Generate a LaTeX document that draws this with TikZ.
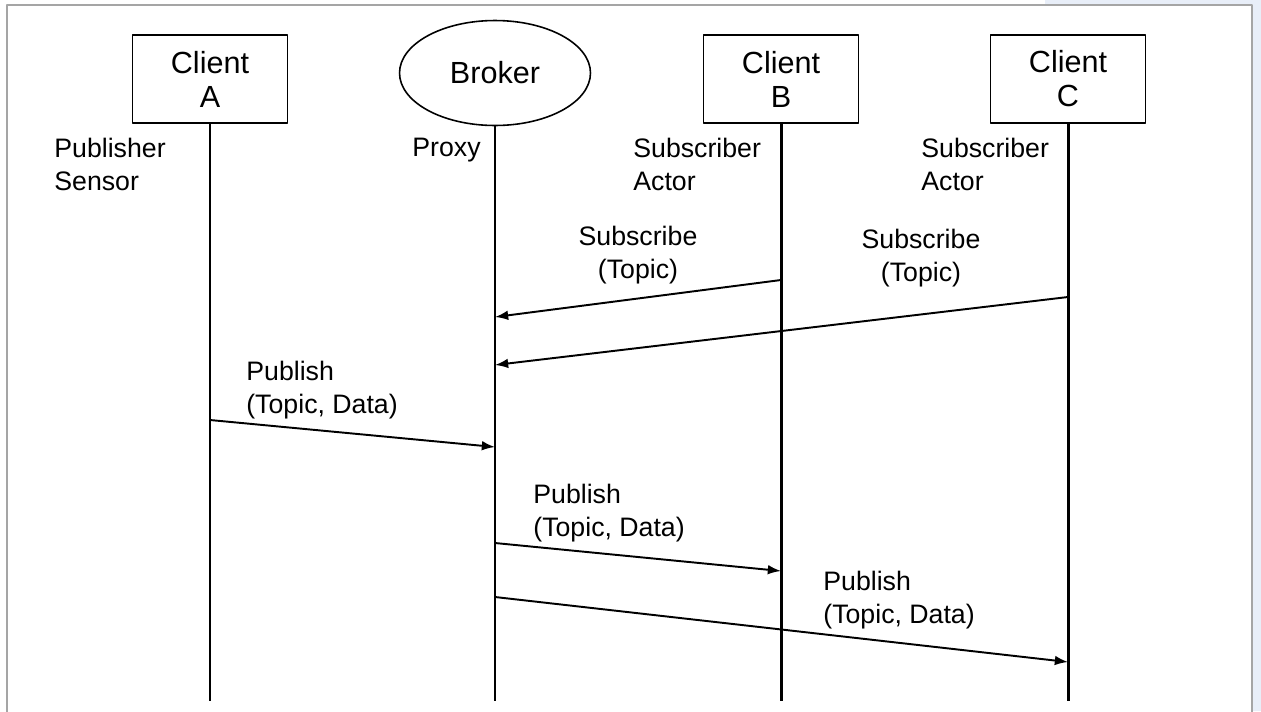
\documentclass[tikz,border=0pt]{standalone}
\usepackage{fontspec}
\setmainfont{Liberation Sans}
\usetikzlibrary{shapes.geometric,arrows.meta}
\definecolor{sideblue}{RGB}{232,238,248}
\definecolor{framegray}{RGB}{165,165,165}

\begin{document}
\begin{tikzpicture}[x=0.02cm, y=-0.02cm, line join=round,
    lifeline/.style={line width=1.7pt},
    msg/.style={line width=1.1pt, -{Latex[length=7.5pt, width=5.5pt]}},
    lbl/.style={font=\fontsize{15.2}{18.7}\selectfont, inner sep=0pt, anchor=north west, align=left}]
   \useasboundingbox (0,0) rectangle (1261,711);
   \fill[sideblue] (1045,0) rectangle (1261,711);
   \draw[framegray, fill=white, line width=0.8pt] (7,712) -- (7,5) -- (1252,5) -- (1252,712);

   \begin{scope}[every node/.style={draw, line width=0.9pt, font=\fontsize{17.4}{19.3}\selectfont, align=center, minimum width=3.1cm, minimum height=1.76cm, inner sep=0pt}]
    \node (ca) at (210,79) {Client\\A};
    \node[ellipse, minimum width=3.82cm, minimum height=2.1cm] (br) at (495,73) {Broker};
    \node (cb) at (781,79) {Client\\B};
    \node (cc) at (1068,79) {Client\\C};
   \end{scope}

   % roles
   \node[lbl] (ra) at (54,138) {Publisher\\Sensor};
   \node[lbl] (rbr) at (412,138) {Proxy};
   \node[lbl] (rb) at (633,138) {Subscriber\\Actor};
   \node[lbl] (rc) at (921,138) {Subscriber\\Actor};

   % lifelines
   \coordinate (ea) at (210,701);
   \coordinate (ebr) at (495,701);
   \coordinate (eb) at (781,701);
   \coordinate (ec) at (1068,701);
   \draw[lifeline] (ca.south) -- (ea);
   \draw[lifeline] (br.south) -- (ebr);
   \draw[lifeline] (cb.south) -- (eb);
   \draw[lifeline] (cc.south) -- (ec);

   % message points
   \coordinate (b1) at (781,280);
   \coordinate (br1) at (495,317);
   \coordinate (c1) at (1068,297);
   \coordinate (br2) at (495,365);
   \coordinate (a1) at (210,420);
   \coordinate (br3) at (495,447);
   \coordinate (br4) at (495,543);
   \coordinate (b2) at (781,571);
   \coordinate (br5) at (495,597);
   \coordinate (c2) at (1068,662);

   \draw[msg] (b1) -- (br1);
   \draw[msg] (c1) -- (br2);
   \draw[msg] (a1) -- (br3);
   \draw[msg] (br4) -- (b2);
   \draw[msg] (br5) -- (c2);

   % message labels
   \node[lbl, anchor=north, align=center] (m1) at (638,226) {Subscribe\\(Topic)};
   \node[lbl, anchor=north, align=center] (m2) at (921,229) {Subscribe\\(Topic)};
   \node[lbl] (m3) at (246,361) {Publish\\(Topic, Data)};
   \node[lbl] (m4) at (533,484) {Publish\\(Topic, Data)};
   \node[lbl] (m5) at (823,571) {Publish\\(Topic, Data)};
\end{tikzpicture}
\end{document}
